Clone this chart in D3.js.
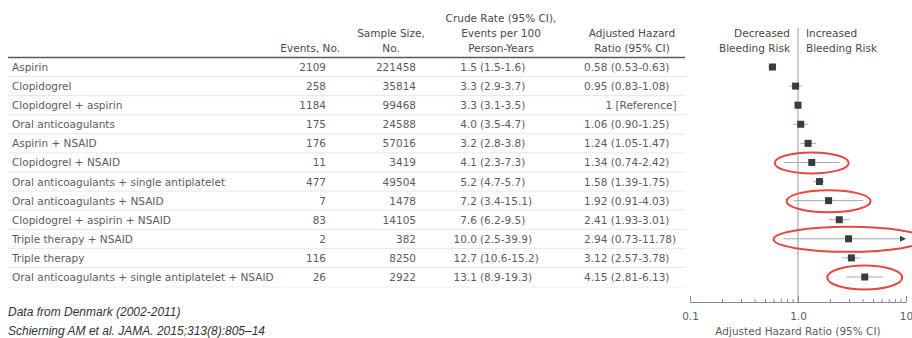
<!DOCTYPE html>
<html>
<head>
<meta charset="utf-8">
<script src="https://cdn.jsdelivr.net/npm/d3@7"></script>
<style>
  html, body { margin: 0; padding: 0; background: #fff; }
  svg { display: block; }
  .tbl { font-family: "DejaVu Sans", sans-serif; font-size: 10.5px; fill: #5c5c5c; }
  .hdr { font-family: "DejaVu Sans", sans-serif; font-size: 10.5px; fill: #4a4a4a; }
  .note { font-family: "Liberation Sans", Arial, sans-serif; font-size: 12px; font-style: italic; fill: #333; }
  .axis text { font-family: "DejaVu Sans", sans-serif; font-size: 10.5px; fill: #5c5c5c; }
  .axis path, .axis line { stroke: #8a8a8a; }
</style>
</head>
<body>
<svg id="chart" width="912" height="338"></svg>
<script>
// Bleeding risk by antithrombotic regimen, with and without NSAID use
const groups = [
  "Aspirin",
  "Clopidogrel",
  "Clopidogrel + aspirin",
  "Oral anticoagulants",
  "Aspirin + NSAID",
  "Clopidogrel + NSAID",
  "Oral anticoagulants + single antiplatelet",
  "Oral anticoagulants + NSAID",
  "Clopidogrel + aspirin + NSAID",
  "Triple therapy + NSAID",
  "Triple therapy",
  "Oral anticoagulants + single antiplatelet + NSAID"
];
const events     = [2109, 258, 1184, 175, 176, 11, 477, 7, 83, 2, 116, 26];
const sampleSize = [221458, 35814, 99468, 24588, 57016, 3419, 49504, 1478, 14105, 382, 8250, 2922];
const crudeRate  = [1.5, 3.3, 3.3, 4.0, 3.2, 4.1, 5.2, 7.2, 7.6, 10.0, 12.7, 13.1];
const crudeLow   = [1.5, 2.9, 3.1, 3.5, 2.8, 2.3, 4.7, 3.4, 6.2, 2.5, 10.6, 8.9];
const crudeHigh  = [1.6, 3.7, 3.5, 4.7, 3.8, 7.3, 5.7, 15.1, 9.5, 39.9, 15.2, 19.3];
const hazard     = [0.58, 0.95, 1, 1.06, 1.24, 1.34, 1.58, 1.92, 2.41, 2.94, 3.12, 4.15];
const hazardLow  = [0.53, 0.83, null, 0.90, 1.05, 0.74, 1.39, 0.91, 1.93, 0.73, 2.57, 2.81];
const hazardHigh = [0.63, 1.08, null, 1.25, 1.47, 2.42, 1.75, 4.03, 3.01, 11.78, 3.78, 6.13];
const majorTicks = [0.1, 1, 10];
const majorTickLabels = ["0.1", "1.0", "10"];
// Regimens circled in red (NSAID combinations with wide intervals)
const circled = ["Clopidogrel + NSAID", "Oral anticoagulants + NSAID",
                 "Triple therapy + NSAID", "Oral anticoagulants + single antiplatelet + NSAID"];

const rows = groups.map((g, i) => ({
  group: g, events: events[i], n: sampleSize[i],
  rate: crudeRate[i], rateLo: crudeLow[i], rateHi: crudeHigh[i],
  hr: hazard[i], lo: hazardLow[i], hi: hazardHigh[i]
}));

const svg = d3.select("#chart");

// Layout
const tableLeft = 8, tableRight = 685;
const y = d3.scalePoint().domain(groups).range([67, 277]);
const rowStep = y.step();
const x = d3.scaleLog().domain([0.1, 10]).range([690, 906]);
const axisY = 302;

const fmt1 = d3.format(".1f");
const fmt2 = d3.format(".2f");

// Row separators
svg.append("g").selectAll("line")
  .data(groups.slice(1))
  .join("line")
  .attr("x1", tableLeft).attr("x2", tableRight)
  .attr("y1", d => y(d) - rowStep / 2).attr("y2", d => y(d) - rowStep / 2)
  .attr("stroke", "#e6e6e6").attr("stroke-width", 1);
svg.append("line")
  .attr("x1", tableLeft).attr("x2", tableRight)
  .attr("y1", y(groups[groups.length - 1]) + rowStep / 2 + 0.5)
  .attr("y2", y(groups[groups.length - 1]) + rowStep / 2 + 0.5)
  .attr("stroke", "#efefef").attr("stroke-width", 1);

// Header rule
svg.append("line")
  .attr("x1", tableLeft).attr("x2", tableRight)
  .attr("y1", 57.5).attr("y2", 57.5)
  .attr("stroke", "#5a5a5a").attr("stroke-width", 1.6);

// Column headers
const headers = [
  { x: 340, anchor: "end", lines: ["Events, No."], top: 52 },
  { x: 391, anchor: "middle", lines: ["Sample Size,", "No."], top: 37 },
  { x: 501, anchor: "middle", lines: ["Crude Rate (95% CI),", "Events per 100", "Person-Years"], top: 22 },
  { x: 632, anchor: "middle", lines: ["Adjusted Hazard", "Ratio (95% CI)"], top: 37 },
  { x: 790, anchor: "end", lines: ["Decreased", "Bleeding Risk"], top: 37 },
  { x: 806, anchor: "start", lines: ["Increased", "Bleeding Risk"], top: 37 }
];
headers.forEach(h => {
  svg.append("g").selectAll("text")
    .data(h.lines)
    .join("text")
    .attr("class", "hdr")
    .attr("x", h.x)
    .attr("y", (d, i) => h.top + i * 15)
    .attr("text-anchor", h.anchor)
    .text(d => d);
});

// Table body
const body = svg.append("g").attr("class", "tbl");
const rowG = body.selectAll("g.row")
  .data(rows)
  .join("g")
  .attr("class", "row")
  .attr("transform", d => `translate(0,${y(d.group) + 4})`);

rowG.append("text").attr("x", 12).text(d => d.group);
rowG.append("text").attr("x", 326).attr("text-anchor", "end").text(d => d.events);
rowG.append("text").attr("x", 416).attr("text-anchor", "end").text(d => d.n);
rowG.append("text").attr("x", 477).attr("text-anchor", "end").text(d => fmt1(d.rate));
rowG.append("text").attr("x", 480)
  .text(d => `(${fmt1(d.rateLo)}-${fmt1(d.rateHi)})`);
rowG.append("text")
  .attr("x", d => d.lo == null ? 641 : 584)
  .attr("text-anchor", d => d.lo == null ? "middle" : "start")
  .text(d => d.lo == null ? "1 [Reference]" : `${fmt2(d.hr)} (${fmt2(d.lo)}-${fmt2(d.hi)})`);

// Reference line at HR = 1
svg.append("line")
  .attr("x1", x(1)).attr("x2", x(1))
  .attr("y1", 28).attr("y2", axisY)
  .attr("stroke", "#9a9a9a").attr("stroke-width", 1);

// Confidence intervals
const [xMin, xMax] = x.domain();
const ciRows = rows.filter(d => d.lo != null);
svg.append("g").selectAll("line")
  .data(ciRows)
  .join("line")
  .attr("x1", d => x(Math.max(d.lo, xMin)))
  .attr("x2", d => d.hi > xMax ? x(xMax) - 4 : x(d.hi))
  .attr("y1", d => y(d.group)).attr("y2", d => y(d.group))
  .attr("stroke", "#a8a8a8").attr("stroke-width", 1);

// Arrow heads for intervals running past the axis
svg.append("g").selectAll("path")
  .data(ciRows.filter(d => d.hi > xMax))
  .join("path")
  .attr("d", d => {
    const xe = x(xMax), yc = y(d.group);
    return `M${xe - 6},${yc - 3}L${xe},${yc}L${xe - 6},${yc + 3}Z`;
  })
  .attr("fill", "#3a4444");

// Point estimates
const sq = 7;
svg.append("g").selectAll("rect")
  .data(rows)
  .join("rect")
  .attr("x", d => x(d.hr) - sq / 2)
  .attr("y", d => y(d.group) - sq / 2)
  .attr("width", sq).attr("height", sq)
  .attr("fill", "#343e3e");

// Red highlight ellipses
const ellipseSize = {
  "Clopidogrel + NSAID": [37, 10.5],
  "Oral anticoagulants + NSAID": [42, 11],
  "Triple therapy + NSAID": [75, 12.5],
  "Oral anticoagulants + single antiplatelet + NSAID": [37.5, 12]
};
svg.append("g").selectAll("ellipse")
  .data(rows.filter(d => circled.includes(d.group)))
  .join("ellipse")
  .attr("cx", d => x(d.hr))
  .attr("cy", d => y(d.group) + 0.5)
  .attr("rx", d => ellipseSize[d.group][0])
  .attr("ry", d => ellipseSize[d.group][1])
  .attr("fill", "none")
  .attr("stroke", "#e8473f")
  .attr("stroke-width", 2);

// Log axis: labelled decades with upward ticks, plus minor ticks
const minorTicks = [];
[0.1, 1].forEach(base => { for (let k = 2; k <= 9; k++) minorTicks.push(base * k); });

const axisG = svg.append("g")
  .attr("class", "axis")
  .attr("transform", `translate(0,${axisY})`);
axisG.call(d3.axisBottom(x)
  .tickValues(majorTicks)
  .tickFormat((d, i) => majorTickLabels[i])
  .tickSizeInner(-6)
  .tickSizeOuter(0)
  .tickPadding(11));
axisG.append("g").selectAll("line")
  .data(minorTicks)
  .join("line")
  .attr("x1", d => x(d)).attr("x2", d => x(d))
  .attr("y1", 0).attr("y2", -3)
  .attr("stroke", "#a0a0a0");

svg.append("text")
  .attr("class", "tbl")
  .attr("x", x(1))
  .attr("y", 335)
  .attr("text-anchor", "middle")
  .text("Adjusted Hazard Ratio (95% CI)");

// Source notes
svg.append("text").attr("class", "note").attr("x", 8).attr("y", 316)
  .text("Data from Denmark (2002-2011)");
svg.append("text").attr("class", "note").attr("x", 8).attr("y", 334.5)
  .text("Schierning AM et al. JAMA. 2015;313(8):805\u201314");
</script>
</body>
</html>
